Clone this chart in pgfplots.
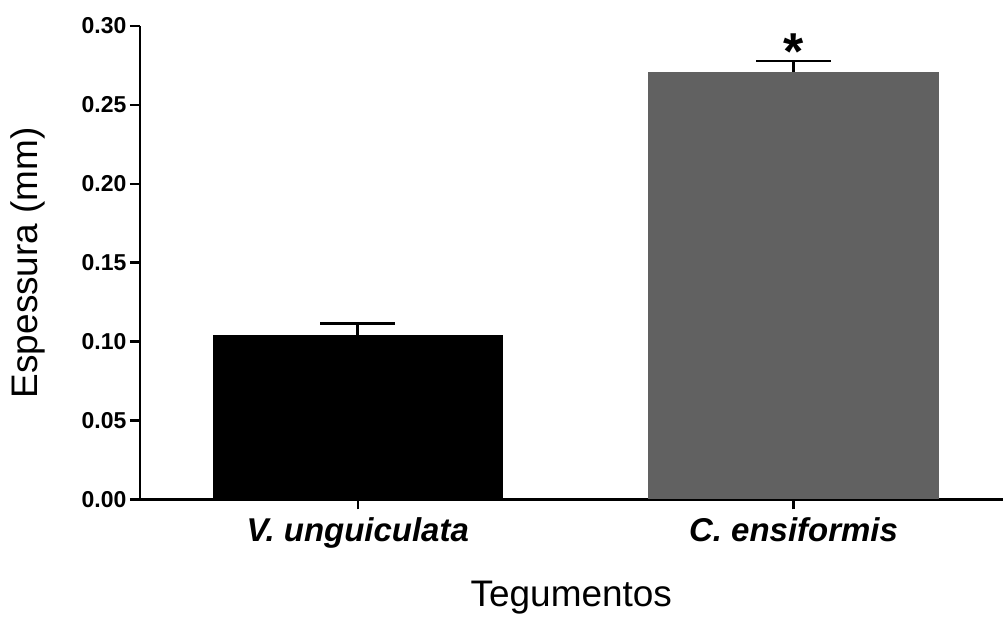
\documentclass[border=0pt]{standalone}
\usepackage{pgfplots}
\pgfplotsset{compat=1.18}
\usepackage{fontspec}
\setmainfont{Liberation Sans}
\definecolor{barblack}{RGB}{0,0,0}
\definecolor{bargray}{RGB}{97,97,97}

\begin{document}
\begin{tikzpicture}
\begin{axis}[
  name=ax,
  scale only axis,
  width=864pt, height=474pt,
  xmin=-0.5, xmax=1.48,
  ymin=0, ymax=0.30,
  axis x line*=bottom,
  axis y line*=left,
  axis line style={-, line width=2.6pt, black},
  tick align=outside,
  major tick length=10pt,
  tick style={line width=2.4pt, black},
  xtick={0,1},
  xticklabels={V. unguiculata, C. ensiformis},
  ytick={0,0.05,0.10,0.15,0.20,0.25,0.30},
  /pgf/number format/assume math mode=true,
  yticklabel style={font=\fontsize{23}{27}\selectfont\bfseries,
    /pgf/number format/.cd, fixed, fixed zerofill, precision=2},
  xticklabel style={font=\fontsize{33}{37}\selectfont\bfseries\itshape,
    yshift=-5pt},
  every axis y label/.style={at={(axis description cs:-0.1296,0.5)},
    rotate=90, anchor=center},
  every axis x label/.style={at={(axis description cs:0.5,-0.2257)},
    anchor=base},
  ylabel={Espessura (mm)},
  xlabel={Tegumentos},
  label style={font=\fontsize{37}{41}\selectfont},
  bar width=0.666,
  clip=false,
]
\addplot[ybar, bar shift=0pt, fill=barblack, draw=none,
  error bars/.cd, y dir=plus, y explicit,
  error bar style={line width=2.6pt, black},
  error mark options={rotate=90, mark size=37.5pt, line width=2.6pt, black}]
  coordinates {(0,0.1044) +- (0,0.0070)};
\addplot[ybar, bar shift=0pt, fill=bargray, draw=none,
  error bars/.cd, y dir=plus, y explicit,
  error bar style={line width=2.6pt, black},
  error mark options={rotate=90, mark size=37.5pt, line width=2.6pt, black}]
  coordinates {(1,0.2711) +- (0,0.0066)};
\node[anchor=north, inner sep=0pt, font=\fontsize{52}{56}\selectfont\bfseries]
  at (axis cs:1,0.2950) {*};
\end{axis}
\path[use as bounding box] ([shift={(-140pt,-114pt)}]ax.south west)
  rectangle ([shift={(0pt,26pt)}]ax.north east);
\end{tikzpicture}
\end{document}
